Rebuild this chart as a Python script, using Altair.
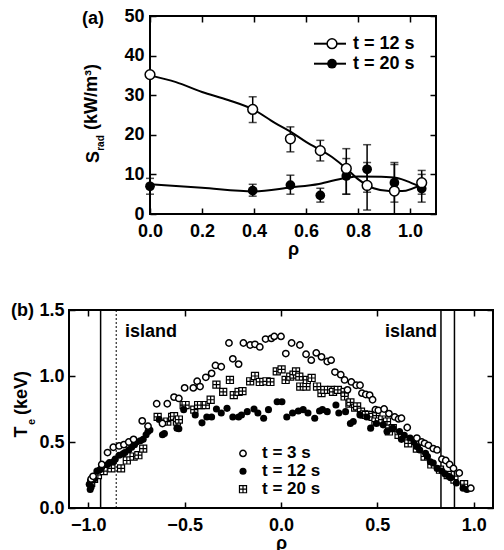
import altair as alt
import pandas as pd

FONT = "Liberation Sans"
FS = 18
FW = "bold"

# ---------------- panel (a) data ----------------
rho_a = [0.0, 0.395, 0.54, 0.655, 0.755, 0.835, 0.94, 1.045]
s12 = [35.2, 26.4, 19.0, 16.0, 11.5, 7.2, 5.8, 7.9]
s12_lo = [35.2, 23.1, 15.7, 13.4, 5.0, 1.0, 0.0, 5.0]
s12_hi = [35.2, 29.6, 22.0, 18.6, 16.5, 13.0, 12.5, 11.0]
s20 = [7.0, 5.9, 7.3, 4.7, 9.6, 11.3, 7.9, 6.4]
s20_lo = [5.0, 4.5, 5.0, 3.0, 5.0, 5.5, 3.0, 3.0]
s20_hi = [9.0, 7.5, 9.8, 6.5, 14.0, 17.5, 13.0, 10.0]
fit12_rho = [0.0, 0.1, 0.2, 0.3, 0.4, 0.48, 0.54, 0.6, 0.7, 0.755, 0.8, 0.86, 0.92, 0.97, 1.045]
fit12_val = [35.0, 33.3, 30.8, 28.8, 26.3, 23.0, 20.8, 18.2, 14.4, 11.5, 8.8, 6.5, 5.8, 5.8, 7.5]
fit20_rho = [0.0, 0.2, 0.4, 0.54, 0.65, 0.75, 0.8, 0.89, 0.95, 1.0, 1.045]
fit20_val = [7.5, 6.6, 5.7, 6.7, 7.6, 9.1, 9.5, 9.4, 9.1, 8.0, 6.7]
legend_a = ["t = 12 s", "t = 20 s"]
xticks_a = [0.0, 0.2, 0.4, 0.6, 0.8, 1.0]
yticks_a = [0, 10, 20, 30, 40, 50]

# ---------------- panel (b) data ----------------
t3_points = [(-0.985, 0.22), (-0.975, 0.24), (-0.93, 0.33), (-0.90, 0.42), (-0.87, 0.46),
             (-0.84, 0.47), (-0.815, 0.48), (-0.79, 0.50), (-0.765, 0.52), (-0.72, 0.66),
             (-0.69, 0.62), (-0.645, 0.79), (-0.615, 0.64), (-0.59, 0.79), (-0.555, 0.84),
             (-0.53, 0.83), (-0.50, 0.91), (-0.455, 0.91), (-0.435, 0.96), (-0.42, 0.92),
             (-0.39, 0.99), (-0.36, 1.02), (-0.34, 1.08), (-0.31, 1.07), (-0.27, 1.25),
             (-0.25, 1.13), (-0.22, 1.09), (-0.195, 1.25), (-0.16, 1.235), (-0.135, 1.24),
             (-0.11, 1.22), (-0.08, 1.28), (-0.05, 1.285), (-0.035, 1.30), (0.0, 1.30),
             (0.025, 1.17), (0.055, 1.25), (0.098, 1.235), (0.13, 1.165), (0.157, 1.12),
             (0.183, 1.175), (0.21, 1.145), (0.24, 1.11), (0.26, 1.12), (0.28, 1.03),
             (0.31, 1.01), (0.33, 0.97), (0.345, 0.895), (0.365, 0.955), (0.39, 0.93),
             (0.41, 0.93), (0.42, 0.87), (0.44, 0.86), (0.46, 0.855), (0.475, 0.82),
             (0.49, 0.745), (0.505, 0.74), (0.535, 0.75), (0.56, 0.715), (0.59, 0.69),
             (0.61, 0.675), (0.625, 0.68), (0.655, 0.61), (0.705, 0.53), (0.73, 0.50),
             (0.745, 0.49), (0.765, 0.475), (0.79, 0.45), (0.81, 0.44), (0.835, 0.37),
             (0.855, 0.36), (0.875, 0.33), (0.895, 0.30), (0.925, 0.265), (0.985, 0.15)]
t12_points = [(-0.995, 0.18), (-0.99, 0.14), (-0.985, 0.16), (-0.97, 0.22), (-0.955, 0.28),
              (-0.94, 0.29), (-0.93, 0.31), (-0.90, 0.33), (-0.89, 0.345), (-0.87, 0.35),
              (-0.86, 0.37), (-0.84, 0.40), (-0.82, 0.41), (-0.81, 0.42), (-0.79, 0.44),
              (-0.775, 0.46), (-0.76, 0.48), (-0.75, 0.50), (-0.73, 0.51), (-0.715, 0.52),
              (-0.70, 0.555), (-0.69, 0.58), (-0.68, 0.59), (-0.632, 0.67), (-0.615, 0.555),
              (-0.605, 0.565), (-0.54, 0.605), (-0.53, 0.60), (-0.505, 0.745), (-0.445, 0.705),
              (-0.41, 0.645), (-0.385, 0.69), (-0.36, 0.69), (-0.335, 0.75), (-0.31, 0.72),
              (-0.28, 0.755), (-0.25, 0.69), (-0.22, 0.69), (-0.205, 0.705), (-0.175, 0.73),
              (-0.14, 0.75), (-0.12, 0.72), (-0.09, 0.68), (-0.065, 0.745), (-0.02, 0.805),
              (0.005, 0.805), (0.03, 0.69), (0.06, 0.72), (0.09, 0.735), (0.115, 0.745),
              (0.14, 0.72), (0.175, 0.68), (0.20, 0.735), (0.215, 0.745), (0.24, 0.73),
              (0.285, 0.78), (0.30, 0.72), (0.335, 0.73), (0.36, 0.64), (0.375, 0.655),
              (0.41, 0.705), (0.445, 0.69), (0.465, 0.605), (0.495, 0.64), (0.53, 0.63),
              (0.55, 0.58), (0.58, 0.605), (0.615, 0.58), (0.625, 0.52), (0.64, 0.55),
              (0.67, 0.53), (0.69, 0.50), (0.705, 0.465), (0.72, 0.44), (0.75, 0.415),
              (0.76, 0.39), (0.775, 0.35), (0.79, 0.34), (0.81, 0.30), (0.835, 0.28),
              (0.85, 0.26), (0.87, 0.24), (0.88, 0.23), (0.91, 0.19), (0.945, 0.15), (0.965, 0.14)]
t20_points = [(-0.985, 0.19), (-0.97, 0.22), (-0.95, 0.25), (-0.92, 0.28), (-0.88, 0.30),
              (-0.83, 0.30), (-0.80, 0.36), (-0.765, 0.39), (-0.74, 0.40), (-0.715, 0.45),
              (-0.64, 0.69), (-0.59, 0.655), (-0.565, 0.69), (-0.555, 0.695), (-0.54, 0.655),
              (-0.53, 0.67), (-0.505, 0.78), (-0.495, 0.78), (-0.45, 0.745), (-0.43, 0.78),
              (-0.415, 0.78), (-0.39, 0.78), (-0.365, 0.82), (-0.335, 0.935), (-0.30, 0.88),
              (-0.265, 0.97), (-0.245, 0.855), (-0.22, 0.88), (-0.20, 0.885), (-0.16, 0.96),
              (-0.135, 1.0), (-0.11, 0.955), (-0.075, 0.96), (-0.055, 0.955), (-0.022, 1.035),
              (0.003, 1.05), (0.024, 0.97), (0.048, 0.995), (0.065, 1.01), (0.078, 1.035),
              (0.095, 0.995), (0.10, 0.92), (0.132, 0.92), (0.134, 0.97), (0.159, 0.985),
              (0.187, 0.92), (0.21, 0.87), (0.225, 0.895), (0.26, 0.895), (0.27, 0.88),
              (0.295, 0.895), (0.33, 0.88), (0.33, 0.845), (0.355, 0.79), (0.36, 0.80),
              (0.385, 0.76), (0.395, 0.77), (0.415, 0.73), (0.43, 0.71), (0.44, 0.705),
              (0.455, 0.705), (0.475, 0.69), (0.495, 0.70), (0.49, 0.655), (0.525, 0.67),
              (0.55, 0.655), (0.56, 0.58), (0.58, 0.605), (0.61, 0.555), (0.66, 0.49),
              (0.705, 0.45), (0.745, 0.39), (0.78, 0.33), (0.825, 0.29), (0.865, 0.25),
              (0.90, 0.215), (0.95, 0.18)]
island_solid = [-0.936, 0.83, 0.90]
island_dotted = [-0.855]
legend_b = ["t = 3 s", "t = 12 s", "t = 20 s"]
xticks_b = [-1.0, -0.5, 0.0, 0.5, 1.0]
yticks_b = [0.0, 0.5, 1.0, 1.5]

SQUARE_PLUS = "M-1,-1H1V1H-1ZM-1,0H1M0,-1V1"


def ax(orient, values=None, labels=True, fmt=None, pad=6, title=None, title_pad=0):
    kw = dict(orient=orient, domain=False, ticks=True, tickSize=6, tickWidth=1.5,
              tickColor="black", offset=-6, grid=False, labels=labels, labelFlush=False,
              labelFont=FONT, labelFontSize=FS, labelFontWeight=FW, labelColor="black",
              labelPadding=pad)
    if values is not None:
        kw["values"] = values
    if fmt is not None:
        kw["format"] = fmt
    if title is not None:
        kw.update(title=title, titleFont=FONT, titleFontSize=FS, titleFontWeight=FW,
                  titleColor="black", titlePadding=title_pad)
    else:
        kw["title"] = None
    return alt.Axis(**kw)


def txt(label, x, y, size=FS, angle=0, align="left"):
    return alt.Chart(pd.DataFrame({"t": [label]})).mark_text(
        font=FONT, fontSize=size, fontWeight=FW, color="black", angle=angle, align=align,
        baseline="middle"
    ).encode(text="t:N", x=alt.value(x), y=alt.value(y))


# ---------------- panel (a) ----------------
xa = alt.Scale(domain=[0, 1.1], nice=False, zero=False)
ya = alt.Scale(domain=[0, 50], nice=False, zero=False)

df_a = pd.DataFrame({"rho": rho_a, "s12": s12, "s12_lo": s12_lo, "s12_hi": s12_hi,
                     "s20": s20, "s20_lo": s20_lo, "s20_hi": s20_hi})
df_f12 = pd.DataFrame({"rho": fit12_rho, "v": fit12_val})
df_f20 = pd.DataFrame({"rho": fit20_rho, "v": fit20_val})

X0 = alt.X("rho:Q", scale=xa, axis=None)

a_axes = alt.Chart(df_a).mark_point(opacity=0).encode(
    x=alt.X("rho:Q", scale=xa, axis=ax("bottom", xticks_a, fmt=".1f", pad=8, title="ρ", title_pad=0)),
    y=alt.Y("s12:Q", scale=ya, axis=ax("left", yticks_a, pad=6)),
)
a_axes2 = alt.Chart(df_a).mark_point(opacity=0).encode(
    x=alt.X("rho:Q", scale=xa, axis=ax("top", xticks_a, labels=False)),
    y=alt.Y("s12:Q", scale=ya, axis=ax("right", yticks_a, labels=False)),
)

a_layers = [a_axes, a_axes2]
for lo, hi in [("s12_lo", "s12_hi"), ("s20_lo", "s20_hi")]:
    a_layers.append(alt.Chart(df_a).mark_rule(color="black", strokeWidth=1.5).encode(
        x=X0, y=alt.Y(f"{lo}:Q", scale=ya, axis=None), y2=f"{hi}:Q"))
    for c in (lo, hi):
        a_layers.append(alt.Chart(df_a).mark_tick(color="black", orient="horizontal", size=8,
                                                   thickness=1.5).encode(
            x=X0, y=alt.Y(f"{c}:Q", scale=ya, axis=None)))
for dfl in (df_f12, df_f20):
    a_layers.append(alt.Chart(dfl).mark_line(color="black", strokeWidth=2, interpolate="monotone").encode(
        x=X0, y=alt.Y("v:Q", scale=ya, axis=None)))
a_layers.append(alt.Chart(df_a).mark_circle(color="black", size=95, opacity=1).encode(
    x=X0, y=alt.Y("s20:Q", scale=ya, axis=None)))
a_layers.append(alt.Chart(df_a).mark_circle(fill="white", stroke="black", strokeWidth=1.5,
                                            size=95, opacity=1).encode(
    x=X0, y=alt.Y("s12:Q", scale=ya, axis=None)))

# legend (a)
for i, lab in enumerate(legend_a):
    yy = 27.7 + 20 * i
    a_layers.append(alt.Chart(pd.DataFrame({"t": [lab]})).mark_rule(color="black", strokeWidth=2).encode(
        x=alt.value(164), x2=alt.value(196), y=alt.value(yy)))
    if i == 0:
        a_layers.append(alt.Chart(pd.DataFrame({"t": [lab]})).mark_circle(
            fill="white", stroke="black", strokeWidth=1.5, size=95, opacity=1).encode(
            x=alt.value(182), y=alt.value(yy)))
    else:
        a_layers.append(alt.Chart(pd.DataFrame({"t": [lab]})).mark_circle(
            color="black", size=95, opacity=1).encode(x=alt.value(182), y=alt.value(yy)))
    a_layers.append(txt(lab, 203, yy))

a_layers += [
    txt("(a)", -68, 3),
    txt("(kW/m³)", -58, 81, angle=270, align="center"),
    txt("S", -56, 141, angle=270, align="center"),
    txt("rad", -49, 127, size=10, angle=270, align="center"),
]

panel_a = alt.layer(*a_layers).resolve_axis(x="independent", y="independent").properties(
    width=286, height=198)

spacer = alt.Chart(pd.DataFrame({"t": [""]})).mark_point(opacity=0).encode(
    x=alt.value(0), y=alt.value(0)).properties(width=12, height=10,
                                               view=alt.ViewBackground(stroke=None))

# ---------------- panel (b) ----------------
xb = alt.Scale(domain=[-1.1, 1.1], nice=False, zero=False)
yb = alt.Scale(domain=[0, 1.5], nice=False, zero=False)
XB = alt.X("rho:Q", scale=xb, axis=None)
YB = alt.Y("te:Q", scale=yb, axis=None)

df3 = pd.DataFrame(t3_points, columns=["rho", "te"])
df12 = pd.DataFrame(t12_points, columns=["rho", "te"])
df20 = pd.DataFrame(t20_points, columns=["rho", "te"])
df_isl = pd.DataFrame({"rho": island_solid})
df_isd = pd.DataFrame({"rho": island_dotted})

b_axes = alt.Chart(df3).mark_point(opacity=0).encode(
    x=alt.X("rho:Q", scale=xb, axis=ax("bottom", xticks_b, fmt=".1f", pad=8, title="ρ", title_pad=0)),
    y=alt.Y("te:Q", scale=yb, axis=ax("left", yticks_b, fmt=".1f", pad=5)),
)
b_axes2 = alt.Chart(df3).mark_point(opacity=0).encode(
    x=alt.X("rho:Q", scale=xb, axis=ax("top", xticks_b, labels=False)),
    y=alt.Y("te:Q", scale=yb, axis=ax("right", yticks_b, labels=False)),
)

b_layers = [
    b_axes, b_axes2,
    alt.Chart(df_isl).mark_rule(color="black", strokeWidth=1.5).encode(x=XB),
    alt.Chart(df_isd).mark_rule(color="black", strokeWidth=1, strokeDash=[2, 2]).encode(x=XB),
    alt.Chart(df20).mark_point(shape=SQUARE_PLUS, filled=True, fill="white", stroke="black",
                               strokeWidth=1.2, size=50, opacity=1).encode(x=XB, y=YB),
    alt.Chart(df12).mark_circle(color="black", size=50, opacity=1).encode(x=XB, y=YB),
    alt.Chart(df3).mark_point(shape="circle", filled=True, fill="white", stroke="black",
                              strokeWidth=1.5, size=40, opacity=1).encode(x=XB, y=YB),
    txt("island", 56, 21.7),
    txt("island", 316, 22.4),
    txt("(b)", -58, 1),
    txt("(keV)", -47, 83, angle=270, align="center"),
    txt("T", -47, 122, angle=270, align="center"),
    txt("e", -37, 112, size=11, angle=270, align="center"),
]

# legend (b)
for i, lab in enumerate(legend_b):
    yy = 143.4 + 17.9 * i
    d1 = pd.DataFrame({"t": [lab]})
    if i == 0:
        m = alt.Chart(d1).mark_point(shape="circle", filled=True, fill="white", stroke="black",
                                     strokeWidth=1.5, size=40, opacity=1)
    elif i == 1:
        m = alt.Chart(d1).mark_circle(color="black", size=50, opacity=1)
    else:
        m = alt.Chart(d1).mark_point(shape=SQUARE_PLUS, filled=True, fill="white", stroke="black",
                                     strokeWidth=1.2, size=50, opacity=1)
    b_layers.append(m.encode(x=alt.value(174), y=alt.value(yy)))
    b_layers.append(txt(lab, 193, yy, size=17))

panel_b = alt.layer(*b_layers).resolve_axis(x="independent", y="independent").properties(
    width=424, height=198)

chart = alt.vconcat(
    alt.hconcat(spacer, panel_a, spacing=0),
    panel_b,
    spacing=41,
).configure_view(stroke="black", strokeWidth=2).properties(
    padding={"left": 2, "top": -2, "right": 0, "bottom": 0}
)

chart.save("out.html", embed_options={"renderer": "svg", "actions": False})
